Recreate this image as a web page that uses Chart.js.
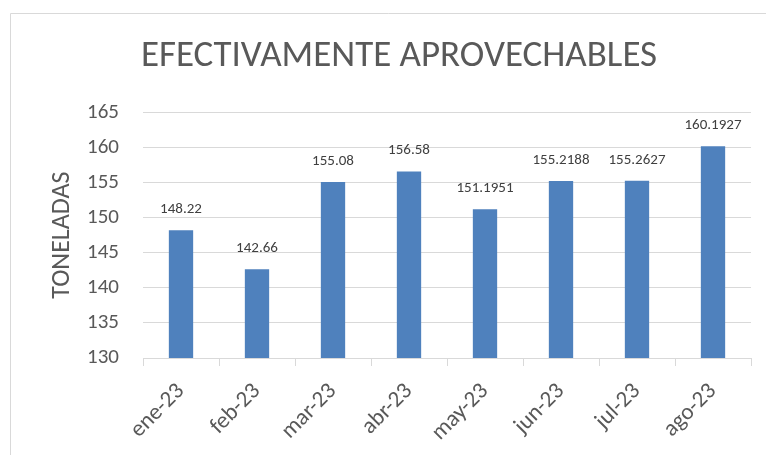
<!DOCTYPE html>
<html>
<head>
<meta charset="utf-8">
<script src="https://cdn.jsdelivr.net/npm/chart.js@4/dist/chart.umd.min.js"></script>
<style>
  html, body { margin: 0; padding: 0; background: #fff; overflow: hidden; }
  #wrap { width: 766px; height: 455px; position: relative; }
</style>
</head>
<body>
<div id="wrap"><canvas id="chart" width="766" height="455"></canvas></div>
<script>
// ---- data ----
const months = ['ene-23', 'feb-23', 'mar-23', 'abr-23', 'may-23', 'jun-23', 'jul-23', 'ago-23'];
const toneladas = [148.22, 142.66, 155.08, 156.58, 151.1951, 155.2188, 155.2627, 160.1927];
const yMin = 130, yMax = 165, yStep = 5;

const FONT = 'Carlito, Calibri, Lato, sans-serif';
const GREY = '#595959';

// frame around the chart (cut off on right/bottom like the screenshot)
const framePlugin = {
    id: 'frame',
    beforeDraw(chart) {
        const c = chart.ctx;
        c.save();
        c.strokeStyle = '#d9d9d9';
        c.lineWidth = 1;
        c.beginPath();
        c.moveTo(10.5, chart.height);
        c.lineTo(10.5, 13.5);
        c.lineTo(chart.width, 13.5);
        c.stroke();
        c.restore();
    }
};

// value labels above every bar
const valueLabels = {
    id: 'valueLabels',
    afterDatasetsDraw(chart) {
        const c = chart.ctx;
        const meta = chart.getDatasetMeta(0);
        c.save();
        c.font = '15px ' + FONT;
        c.fillStyle = '#404040';
        c.textAlign = 'center';
        c.textBaseline = 'alphabetic';
        meta.data.forEach((bar, i) => {
            c.fillText(String(toneladas[i]), bar.x, bar.y - 17);
        });
        c.restore();
    }
};

new Chart(document.getElementById('chart'), {
    type: 'bar',
    data: {
        labels: months,
        datasets: [{
            data: toneladas,
            backgroundColor: '#4f81bd',
            barPercentage: 0.32,
            categoryPercentage: 1
        }]
    },
    plugins: [framePlugin, valueLabels],
    options: {
        responsive: false,
        animation: false,
        layout: { padding: { left: 47, right: 15, top: 0, bottom: 0 } },
        plugins: {
            legend: { display: false },
            tooltip: { enabled: false },
            title: {
                display: true,
                text: 'EFECTIVAMENTE APROVECHABLES',
                color: GREY,
                font: { family: FONT, size: 37, weight: 300 },
                padding: { top: 35, bottom: 33 }
            }
        },
        scales: {
            y: {
                min: yMin,
                max: yMax,
                afterFit(scale) { scale.width = 96; },
                ticks: { stepSize: yStep, color: GREY, font: { family: FONT, size: 21 }, padding: 24 },
                grid: { color: '#d9d9d9', drawTicks: false },
                border: { display: false },
                title: {
                    display: true,
                    text: 'TONELADAS',
                    color: GREY,
                    font: { family: FONT, size: 26 },
                    padding: 0
                }
            },
            x: {
                afterFit(scale) { scale.height = 97; },
                ticks: { color: GREY, font: { family: FONT, size: 23 }, minRotation: 45, maxRotation: 45, padding: 12 },
                grid: { color: '#d9d9d9', drawOnChartArea: false, tickLength: 8 },
                border: { color: '#d9d9d9' }
            }
        }
    }
});
</script>
</body>
</html>
